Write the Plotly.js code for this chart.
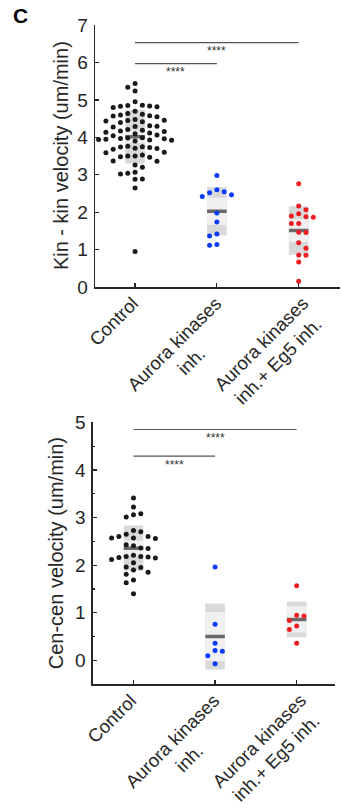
<!DOCTYPE html>
<html><head><meta charset="utf-8">
<script src="https://cdn.plot.ly/plotly-3.0.1.min.js"></script>
<style>html,body{margin:0;padding:0;background:#fff;}#chart{width:342px;height:809px;}</style>
</head><body><div id="chart"></div>
<script>
// ---------------- data ----------------
const categories = ["Control", "Aurora kinases<br>inh.", "Aurora kinases<br>inh.+ Eg5 inh."];

const kinControl = [5.44,5.34,5.24,4.95,4.86,4.85,4.84,4.83,4.82,4.80,4.70,4.64,4.62,4.60,4.58,4.57,4.55,
  4.48,4.46,4.45,4.44,4.42,4.40,4.31,4.30,4.29,4.28,4.21,4.19,4.17,4.16,4.14,4.12,4.10,4.06,4.04,
  3.99,3.98,3.97,3.96,3.95,3.94,3.93,3.92,3.90,3.76,3.75,3.74,3.73,3.71,3.70,3.68,3.60,3.59,
  3.53,3.50,3.50,3.48,3.47,3.37,3.36,3.26,3.20,3.07,3.04,3.02,2.89,2.88,2.65,0.95];
const kinAurora = [2.98,2.60,2.55,2.52,2.47,2.42,1.98,1.74,1.42,1.37,1.14,1.12];
const kinAuroraEg5 = [2.76,2.17,2.07,1.96,1.90,1.88,1.87,1.70,1.70,1.47,1.46,1.19,1.04,0.86,0.85,0.67,0.16];

const cenControl = [3.41,3.22,3.08,3.06,3.01,2.73,2.70,2.65,2.60,2.60,2.57,2.57,2.56,2.43,2.41,2.36,2.35,
  2.21,2.18,2.18,2.17,2.16,2.15,2.12,2.05,1.96,1.95,1.90,1.85,1.81,1.69,1.63,1.40];
const cenAurora = [1.96,0.76,0.36,0.21,0.19,0.10,-0.07];
const cenAuroraEg5 = [1.57,0.95,0.93,0.84,0.72,0.65,0.36];

const kinSigFrom = [0, 0], kinSigTo = [1, 2], kinSigY = [5.97, 6.53];
const cenSigFrom = [0, 0], cenSigTo = [1, 2], cenSigY = [4.29, 4.85];
const sigLabel = "****";

const kinTitle = "Kin - kin velocity (um/min)";
const cenTitle = "Cen-cen velocity (um/min)";

// ---------------- styles / geometry ----------------
const W = 342, H = 809;
const FONT = "Liberation Sans, Arial, Helvetica, sans-serif";
const groupColors = ["#1a1a1a", "#0a3cff", "#ee1d23"];
const AX = "#262626";
const panels = [
  {xPx:[95,340], yPx:[25,287.2], xr:[-0.49,2.505], yr:[0,7], xa:"x", ya:"y", data:[kinControl,kinAurora,kinAuroraEg5],
   sf:kinSigFrom, st:kinSigTo, sy:kinSigY, title:kinTitle, titleX:61, minor:false},
  {xPx:[92.7,335], yPx:[422.3,684.2], xr:[-0.5,2.47], yr:[-0.5,5], xa:"x2", ya:"y2", data:[cenControl,cenAurora,cenAuroraEg5],
   sf:cenSigFrom, st:cenSigTo, sy:cenSigY, title:cenTitle, titleX:56, minor:true}
];

function mean(a){return a.reduce((s,v)=>s+v,0)/a.length;}
function sd(a){const m=mean(a);return Math.sqrt(a.reduce((s,v)=>s+(v-m)*(v-m),0)/(a.length-1));}

// beeswarm offsets (category units) computed from values
function swarm(vals, pxPerUnit, pxPerCat){
  const STEP = 7.3, MIND = 7.0;
  const order = vals.map((v,i)=>i).sort((a,b)=>vals[b]-vals[a]);
  const placed = [], off = new Array(vals.length).fill(0);
  order.forEach((i,k)=>{
    const y = vals[i]*pxPerUnit;
    for(let j=0;j<60;j++){
      const m = Math.ceil(j/2)*(j%2===1?1:-1)*(k%2?-1:1);
      const x = m*STEP;
      if(placed.every(p=>(p.x-x)*(p.x-x)+(p.y-y)*(p.y-y) >= MIND*MIND)){
        placed.push({x,y}); off[i]=x/pxPerCat; break;
      }
    }
  });
  return off;
}

const traces = [], shapes = [], annotations = [];
const layout = {width:W, height:H, margin:{l:0,r:0,t:0,b:0}, showlegend:false,
  paper_bgcolor:"#fff", plot_bgcolor:"#fff", font:{family:FONT, color:AX}};

const HALF = 0.12;
panels.forEach((p, pi)=>{
  const xDom = [p.xPx[0]/W, p.xPx[1]/W];
  const yDom = [(H-p.yPx[1])/H, (H-p.yPx[0])/H];
  const pxPerUnit = (p.yPx[1]-p.yPx[0])/(p.yr[1]-p.yr[0]);
  const pxPerCat = (p.xPx[1]-p.xPx[0])/(p.xr[1]-p.xr[0]);
  const xk = pi===0 ? "xaxis" : "xaxis2", yk = pi===0 ? "yaxis" : "yaxis2";
  layout[xk] = {domain:xDom, range:p.xr, anchor:p.ya, showline:true, linecolor:AX, linewidth:1.3,
    ticks:"inside", ticklen:4, tickcolor:AX, tickwidth:1.2, tickvals:[0,1,2], showticklabels:false,
    showgrid:false, zeroline:false, fixedrange:true};
  layout[yk] = {domain:yDom, range:p.yr, anchor:p.xa, showline:true, linecolor:AX, linewidth:1.3,
    ticks:"inside", ticklen:4, tickcolor:AX, tickwidth:1.2, tick0:0, dtick:1,
    tickfont:{size:19, color:AX, family:FONT}, ticklabelstandoff:2,
    showgrid:false, zeroline:false, fixedrange:true};
  if(p.minor) layout[yk].minor = {dtick:0.5, ticks:"inside", ticklen:2.5, tickcolor:AX, tickwidth:1.2, showgrid:false};

  p.data.forEach((vals, gi)=>{
    const off = swarm(vals, pxPerUnit, pxPerCat);
    const m = mean(vals), s = sd(vals), ci = 1.96*s/Math.sqrt(vals.length);
    shapes.push({type:"rect", xref:p.xa, yref:p.ya, x0:gi-HALF, x1:gi+HALF, y0:m-s, y1:m+s,
      fillcolor:"#d9d9d9", line:{width:0}, layer:"below"});
    shapes.push({type:"rect", xref:p.xa, yref:p.ya, x0:gi-HALF, x1:gi+HALF, y0:m-ci, y1:m+ci,
      fillcolor:"#f0f0f0", line:{width:0}, layer:"below"});
    shapes.push({type:"line", xref:p.xa, yref:p.ya, x0:gi-HALF, x1:gi+HALF, y0:m, y1:m,
      line:{color:"#6a6a6a", width:3.6}, layer:"below"});
    traces.push({type:"scatter", mode:"markers", xaxis:p.xa, yaxis:p.ya,
      x: vals.map((v,i)=>gi+off[i]), y: vals, hoverinfo:"skip",
      marker:{size:5, color:groupColors[gi], line:{width:0}}});
  });

  p.sy.forEach((yv, k)=>{
    shapes.push({type:"line", xref:p.xa, yref:p.ya, x0:p.sf[k], x1:p.st[k], y0:yv, y1:yv,
      line:{color:"#555", width:1.1}});
    annotations.push({xref:p.xa, yref:p.ya, x:(p.sf[k]+p.st[k])/2, y:yv, text:sigLabel, showarrow:false,
      xanchor:"center", yanchor:"middle", yshift:-8.5, font:{size:12, color:"#333", family:FONT}});
  });

  // category labels
  const shifts = [10, 28, 33];
  categories.forEach((c, gi)=>{
    annotations.push({xref:p.xa, yref:p.ya+" domain", x:gi, y:0, text:c, showarrow:false, textangle:-45,
      xanchor:"right", yanchor:"top", xshift:shifts[gi], yshift:-3, align:"center",
      font:{size:18.5, color:AX, family:FONT}});
  });

  annotations.push({xref:"paper", yref:"paper", x:p.titleX/W, y:((yDom[0]+yDom[1])/2), text:p.title,
    showarrow:false, textangle:-90, xanchor:"center", yanchor:"middle", font:{size:20, color:AX, family:FONT}});
});

annotations.push({xref:"paper", yref:"paper", x:20/W, y:(H-16)/H, text:"<b>C</b>", showarrow:false,
  xanchor:"center", yanchor:"middle", font:{size:21, color:"#000", family:FONT}});

layout.shapes = shapes;
layout.annotations = annotations;
Plotly.newPlot("chart", traces, layout, {staticPlot:true, displayModeBar:false});
</script></body></html>
